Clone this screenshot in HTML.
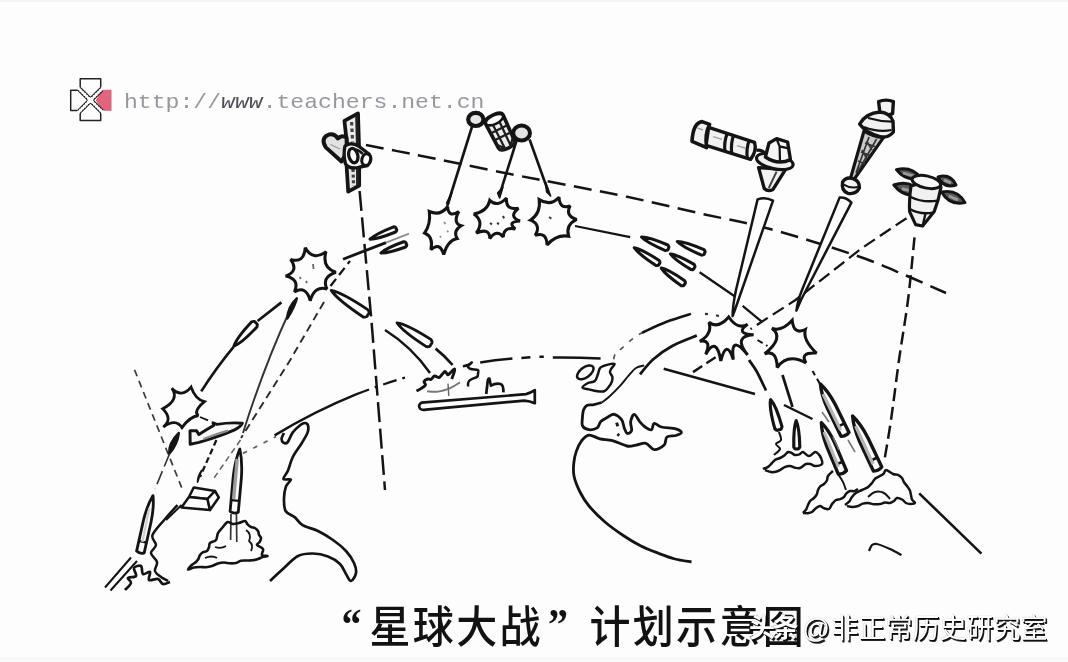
<!DOCTYPE html>
<html lang="zh-CN"><head><meta charset="utf-8"><title>“星球大战”计划示意图</title>
<style>
html,body{margin:0;padding:0;background:#fdfdfd;}
body{width:1068px;height:662px;overflow:hidden;position:relative;font-family:"Liberation Sans","Noto Sans CJK SC",sans-serif;}
svg{position:absolute;left:0;top:0;display:block;}
.url{position:absolute;left:124px;top:90px;will-change:transform;font:21px/26px "Liberation Mono",monospace;color:#9797a0;white-space:pre;transform:scaleX(1.1);transform-origin:0 0;}
.url i{color:#4f4f58;}
.cap{will-change:transform;position:absolute;left:325.5px;top:599px;font:500 41px/58px "Liberation Sans","Noto Sans CJK SC",sans-serif;color:#121212;white-space:nowrap;letter-spacing:2.35px;transform:scaleY(1.085);transform-origin:0 27px;}
.cap .q{display:inline-block;width:43.5px;letter-spacing:0;font:700 40px/58px "Liberation Serif",serif;vertical-align:top;box-sizing:border-box;position:relative;top:-3.5px}
.cap .ql{text-align:right;padding-right:8px;}
.cap .qr{text-align:left;padding-left:5px;width:46.5px}
.wm{will-change:transform;position:absolute;top:610.5px;font:27px/36px "Liberation Sans","Noto Sans CJK SC",sans-serif;color:#fff;white-space:nowrap;text-shadow:1px 1px 0 #0a0a0a,1.7px 1.7px 0 rgba(0,0,0,.85),0 0 1px rgba(0,0,0,.4);}
.wm1{left:748.5px;font-weight:700;font-size:26px;letter-spacing:-2.5px;top:610px}
.wm2{left:804.5px;}
.wm2 .at{margin-left:-2.5px;margin-right:1.5px}
</style></head><body>
<svg width="1068" height="662" viewBox="0 0 1068 662" stroke-linejoin="round">
<rect x="0" y="0" width="1068" height="662" fill="#fdfdfd"/>
<rect x="0" y="0" width="1068" height="2" fill="#f3f3f5"/>
<rect x="0" y="657" width="1068" height="5" fill="#f8f8f9"/>
<path d="M111 90.3H102.8L96.4 100.2L102.8 110.3H111Z" fill="#e0657e" stroke="#d9627b" stroke-width="1.02"/>
<path d="M80.2 88.6V78.7H100.7V88.6" fill="none" stroke="#222228" stroke-width="1.47" stroke-linecap="butt"/>
<path d="M79 90.3H70.7V110.4H79" fill="none" stroke="#222228" stroke-width="1.47" stroke-linecap="butt"/>
<path d="M80.2 112V120.6H100.7V112" fill="none" stroke="#222228" stroke-width="1.47" stroke-linecap="butt"/>
<path d="M79.6 89.4L101.6 111.2M101.4 89.4L79.4 111.2" fill="none" stroke="#222228" stroke-width="5.08" stroke-linecap="butt"/>
<path d="M78.9 88.7L102.6 112.2M102.1 88.7L78.4 112.2" fill="none" stroke="#fdfdfd" stroke-width="3.28" stroke-dasharray="0 2.75" stroke-linecap="round"/>
<path d="M78.6 88.4L102.6 112.2M102.4 88.4L78.4 112.2" fill="none" stroke="#fdfdfd" stroke-width="1.36" stroke-linecap="butt"/>
<circle cx="90.4" cy="100.3" r="2.7" fill="#fdfdfd"/>
<path d="M366 145C373.3 146.4 394.3 150.5 410 153.6C425.7 156.7 442.5 160.2 460 163.8C477.5 167.4 497.2 171.5 515 175C532.8 178.5 548.5 181.4 567 185C585.5 188.6 603.8 191.8 626 196.5C648.2 201.2 676 208 700 213.4C724 218.8 744 222 770 229C796 236 833.3 247.8 856 255.5C878.7 263.2 891 269.2 906 275.5C921 281.8 939.3 290.1 946 293" fill="none" stroke="#141414" stroke-width="2.49" stroke-dasharray="18 8.5" stroke-linecap="butt"/>
<path d="M359.6 191L371.4 320L385 490" fill="none" stroke="#141414" stroke-width="2.49" stroke-dasharray="20 6.5" stroke-linecap="butt"/>
<path d="M344.4 120.8L358 113.4L359 146L347.2 146Z" fill="#ececec" stroke="#141414" stroke-width="3.73"/>
<path d="M356.6 116L357.4 145" fill="none" stroke="#222" stroke-width="2.94" stroke-linecap="butt"/>
<path d="M351.6 122L352.6 142" fill="none" stroke="#444" stroke-width="3.16" stroke-dasharray="3.5 3" stroke-linecap="butt"/>
<path d="M346.6 166L359.2 166L359.2 185.6L348.2 191.6Z" fill="#e6e6e6" stroke="#141414" stroke-width="3.73"/>
<path d="M357.4 167L357.4 185" fill="none" stroke="#222" stroke-width="2.71" stroke-linecap="butt"/>
<path d="M353 169L353.6 186" fill="none" stroke="#444" stroke-width="3.16" stroke-dasharray="3 2.6" stroke-linecap="butt"/>
<path d="M341.5 161.5L325.8 147.4Q320.8 139.4 327 135.4Q333.5 132.2 338 138.5Q341.5 134.5 346.5 137.5L347 152Z" fill="#e2e2e2" stroke="#141414" stroke-width="3.95"/>
<path d="M330.5 144.5L340 149" fill="none" stroke="#999" stroke-width="1.13" stroke-linecap="butt"/>
<path d="M345 146Q351 141.5 358.5 146L369 154Q373 160 367.5 165.5L360 167Q350 170 345.5 164Q343 155 345 146Z" fill="#f4f4f4" stroke="#141414" stroke-width="3.39"/>
<ellipse cx="353.3" cy="155.6" rx="4.5" ry="7.3" transform="rotate(-14 353.3 155.6)" fill="#fdfdfd" stroke="#141414" stroke-width="3.3"/>
<ellipse cx="366.2" cy="159.6" rx="4.3" ry="5.9" transform="rotate(14 366.2 159.6)" fill="#fdfdfd" stroke="#141414" stroke-width="3.1"/>
<path d="M355.5 149.5Q359 150 363 154" fill="none" stroke="#141414" stroke-width="2.49" stroke-linecap="butt"/>
<path d="M472.2 126L447.2 206" fill="none" stroke="#141414" stroke-width="2.6" stroke-linecap="butt"/>
<path d="M516.6 140.5L499.8 194" fill="none" stroke="#141414" stroke-width="2.6" stroke-linecap="butt"/>
<path d="M529.6 139.5L548.4 192" fill="none" stroke="#141414" stroke-width="2.6" stroke-linecap="butt"/>
<path d="M452 192L448.6 203.5L446.6 203Z" fill="#141414" stroke="#141414" stroke-width="1.58"/>
<path d="M503 187L499.6 198L497.6 193Z" fill="#141414" stroke="#141414" stroke-width="1.58"/>
<path d="M545.5 182L550.6 196L546.6 192Z" fill="#141414" stroke="#141414" stroke-width="1.58"/>
<ellipse cx="475.8" cy="119.4" rx="7.6" ry="6.6" fill="#e6e6e6" stroke="#141414" stroke-width="4.2"/>
<g transform="rotate(-26 500 131)">
<path d="M490.2 118Q490.2 113.6 500 113.6Q509.8 113.6 509.8 118L508.8 146Q508.4 150 500 150Q491.6 150 491.2 146Z" fill="#ececec" stroke="#141414" stroke-width="3.62"/>
<ellipse cx="500" cy="118.4" rx="9.4" ry="4.4" fill="#fbfbfb" stroke="#141414" stroke-width="2.6"/>
<path d="M491 129L509 129M491 137L509 137M496.4 123L496.8 149M503.6 123L503.2 149M491 142L498 150M502 150L509 142M491 146L495 150M505 150L509 146" fill="none" stroke="#1e1e1e" stroke-width="2.26" stroke-linecap="butt"/>
</g>
<ellipse cx="521.6" cy="133" rx="8.4" ry="7.4" fill="#e4e4e4" stroke="#141414" stroke-width="4"/>
<path d="M343 259.2L386 242.6" fill="none" stroke="#141414" stroke-width="2.82" stroke-linecap="butt"/>
<path d="M386 242.6L409 233.6" fill="none" stroke="#8c8c8c" stroke-width="1.69" stroke-linecap="butt"/>
<path d="M330.5 286L350 261" fill="none" stroke="#141414" stroke-width="2.26" stroke-dasharray="9 5" stroke-linecap="butt"/>
<path d="M575 226L630.2 237.2" fill="none" stroke="#141414" stroke-width="2.26" stroke-linecap="butt"/>
<path d="M699.6 272.3L734.6 296.2M742.6 305.8L761.7 321.7" fill="none" stroke="#141414" stroke-width="2.26" stroke-linecap="butt"/>
<path d="M281.4 302.4L257.6 321" fill="none" stroke="#141414" stroke-width="2.71" stroke-linecap="butt"/>
<path d="M233.6 346.8Q216 368 201.2 391.4" fill="none" stroke="#141414" stroke-width="2.6" stroke-linecap="butt"/>
<path d="M385 330Q412 347 430 373" fill="none" stroke="#141414" stroke-width="2.49" stroke-linecap="butt"/>
<path d="M435.6 348.6Q445 356 452.6 365" fill="none" stroke="#141414" stroke-width="2.71" stroke-linecap="butt"/>
<path d="M290.5 309Q264 366 243 433" fill="none" stroke="#333" stroke-width="1.92" stroke-linecap="butt"/>
<path d="M296.8 298.4Q294.6 307 287.4 318.4Q287.6 307 296.8 298.4Z" fill="#141414" stroke="#141414" stroke-width="2.49"/>
<path d="M324 302L289 362L241 438" fill="none" stroke="#2a2a2a" stroke-width="1.92" stroke-dasharray="8 5" stroke-linecap="butt"/>
<path d="M134.5 369.7L165 446L182.8 490.4" fill="none" stroke="#3a3a3a" stroke-width="1.69" stroke-dasharray="7 5" stroke-linecap="butt"/>
<path d="M178.8 433Q177.6 444 169.2 453.8Q168.6 443 178.8 433Z" fill="#141414" stroke="#141414" stroke-width="2.49"/>
<path d="M169.6 453.6L155 489" fill="none" stroke="#333" stroke-width="1.58" stroke-dasharray="14 5" stroke-linecap="butt"/>
<path d="M200 417L208 420.4" fill="none" stroke="#141414" stroke-width="1.81" stroke-linecap="butt"/>
<path d="M216.4 440L200 477" fill="none" stroke="#141414" stroke-width="2.26" stroke-dasharray="6 3.5" stroke-linecap="butt"/>
<path d="M201.6 470.5Q199 477 197.6 482Q197.8 476 201.6 470.5Z" fill="#141414" stroke="#141414" stroke-width="1.81"/>
<path d="M240.5 440L213 479.5" fill="none" stroke="#666" stroke-width="1.58" stroke-dasharray="6 4" stroke-linecap="butt"/>
<path d="M243 453.4L276 436.6" fill="none" stroke="#666" stroke-width="1.81" stroke-dasharray="4.5 7" stroke-linecap="butt"/>
<path d="M274.6 435.4Q314 411.5 356 394.4" fill="none" stroke="#141414" stroke-width="2.49" stroke-linecap="butt"/>
<path d="M356 394.4Q380 385 405 377.6" fill="none" stroke="#141414" stroke-width="2.26" stroke-dasharray="14 6 3 6" stroke-linecap="butt"/>
<path d="M480.2 362.4Q496 360 512.4 358.6M521.4 357.9L530.4 357.2M539.4 356.8L543.8 356.8M552.8 357.5Q577 357.3 600.6 358.4" fill="none" stroke="#141414" stroke-width="2.49" stroke-linecap="butt"/>
<path d="M305.3 247.7Q313 261.5 326 251.6Q321.5 267.5 335.8 272.2Q321.2 277.5 327 289Q314.7 285.3 310.2 300.7Q306.3 285.2 294.5 291.8Q300 279.2 285.7 276.1Q299.2 271 290.6 259.4Q304.1 263.8 305.3 247.7Z" fill="#fdfdfd" stroke="#141414" stroke-width="3.05" stroke-linejoin="miter" stroke-miterlimit="2.5"/>
<path d="M447.6 206.7Q448.4 218.4 458.8 211.5Q452.5 223.2 461.2 225.8Q452.6 230.9 457.2 238.6Q447.8 240.5 443.7 254.5Q439.9 241.5 430.9 249.7Q433.6 236.6 424.6 233Q431 224 429.3 211.5Q440.1 216.4 447.6 206.7Z" fill="#fdfdfd" stroke="#141414" stroke-width="3.05" stroke-linejoin="miter" stroke-miterlimit="2.5"/>
<path d="M489.8 200.3Q497.6 207.7 506.5 198Q505.2 210.5 518.5 208.3Q508 216.7 520 221Q506.7 221.7 515.3 229Q503.6 226.4 503.3 237Q496.8 228.8 489.8 238.6Q489.9 227.4 476.3 233Q484.6 221.4 473.9 213.9Q487.4 211.3 489.8 200.3Z" fill="#fdfdfd" stroke="#141414" stroke-width="3.05" stroke-linejoin="miter" stroke-miterlimit="2.5"/>
<path d="M539.2 199.6Q550.8 206.7 559 197.2Q559.7 209.8 570.2 205.9Q564.8 215.9 576.6 219.4Q565.4 224.9 568.6 236.2Q556.5 234.2 547.1 244.9Q546.6 231.3 535.2 235.4Q541.6 224.6 530.4 220.2Q541 213.3 539.2 199.6Z" fill="#fdfdfd" stroke="#141414" stroke-width="3.05" stroke-linejoin="miter" stroke-miterlimit="2.5"/>
<path d="M171.8 388.3Q181.4 398.5 191.1 387.1Q195.2 399.2 204.4 401.6Q192.8 411.4 198.4 415.5Q189.6 416.7 182 427.6Q175.7 418.1 163.3 427Q173.2 419.1 162.7 408.8Q179.9 399.8 171.8 388.3Z" fill="#fdfdfd" stroke="#141414" stroke-width="2.82" stroke-linejoin="miter" stroke-miterlimit="2.5"/>
<path d="M709 322.3Q718.1 329.4 728.7 317Q737.8 330.4 747.7 324.2Q734.3 333.8 753.6 334.7Q732.3 336.1 747.7 355Q729.9 333.1 733.3 359.6Q726.4 338.1 720.8 361Q716.5 335.3 705.7 354.4Q712.2 339.1 699.8 341.3Q712.6 334.2 709 322.3Z" fill="#fdfdfd" stroke="#141414" stroke-width="3.05" stroke-linejoin="miter" stroke-miterlimit="2.5"/>
<path d="M771.9 328.2Q781.5 332.1 792.2 320.3Q793.7 335.3 805.3 329.5Q802.5 339.9 816.5 353.1Q799.3 352 806 362.9Q787.6 352.8 777.2 367.5Q776.8 349.4 764.7 353.7Q784.7 337.7 771.9 328.2Z" fill="#fdfdfd" stroke="#141414" stroke-width="3.05" stroke-linejoin="miter" stroke-miterlimit="2.5"/>
<path d="M313 264l.6 5M306 281l1 2M300 277l.6 2" fill="none" stroke="#666" stroke-width="1.81" stroke-linecap="butt"/>
<path d="M444 222l1.5 2M440 236l1 1.5M447 231l1.5 1" fill="none" stroke="#888" stroke-width="1.58" stroke-linecap="butt"/>
<path d="M490 223l2 1.4M497 223l2 1M503 216l1 2.4" fill="none" stroke="#333" stroke-width="2.03" stroke-linecap="butt"/>
<path d="M549 217l2.4 1.6" fill="none" stroke="#444" stroke-width="2.03" stroke-linecap="butt"/>
<path d="M370 239.2Q377.2 239.4 395.6 232Q397.6 230 396.2 228.8Q396.3 226.9 393.6 226.8Q375.1 234.1 370 239.2Z" fill="#fdfdfd" stroke="#141414" stroke-width="3.05" stroke-linejoin="round"/>
<path d="M380.9 253Q387.8 253.5 405.6 247Q407.5 245.1 406.2 243.8Q406.4 242 403.6 241.8Q385.9 248.2 380.9 253Z" fill="#fdfdfd" stroke="#141414" stroke-width="3.05" stroke-linejoin="round"/>
<path d="M331.2 290.4Q337.4 299.7 363.2 317Q367.4 317.7 367.7 314.8Q370.3 313.4 368 309.8Q342.2 292.6 331.2 290.4Z" fill="#fdfdfd" stroke="#141414" stroke-width="2.82" stroke-linejoin="round"/>
<path d="M397 322.8Q402.6 331.5 426.3 346.6Q430.5 347.3 430.8 344.4Q433.3 342.9 430.9 339.4Q407.2 324.2 397 322.8Z" fill="#fdfdfd" stroke="#141414" stroke-width="2.82" stroke-linejoin="round"/>
<path d="M234 346Q241.8 343.1 256.9 326.9Q258.1 323.5 255.7 322.8Q254.9 320.5 251.5 321.9Q236.3 338.1 234 346Z" fill="#fdfdfd" stroke="#141414" stroke-width="2.94" stroke-linejoin="round"/>
<path d="M641.5 237Q646.6 242.5 665.4 250.6Q668.4 250.5 668.3 248.5Q669.8 247.2 667.8 245Q649 236.9 641.5 237Z" fill="#fdfdfd" stroke="#141414" stroke-width="3.05" stroke-linejoin="round"/>
<path d="M677.2 241.5Q682.4 247 701.6 255.2Q704.6 255.1 704.5 253.1Q706 251.8 704 249.6Q684.8 241.5 677.2 241.5Z" fill="#fdfdfd" stroke="#141414" stroke-width="3.05" stroke-linejoin="round"/>
<path d="M634.2 247.7Q638.4 254 656 265.5Q658.9 266 659.1 264Q660.8 263 659.2 260.5Q641.7 249 634.2 247.7Z" fill="#fdfdfd" stroke="#141414" stroke-width="3.05" stroke-linejoin="round"/>
<path d="M670.4 254Q674.4 259.8 691.1 269.6Q694 269.9 694.2 267.9Q695.8 266.8 694.1 264.4Q677.5 254.7 670.4 254Z" fill="#fdfdfd" stroke="#141414" stroke-width="3.05" stroke-linejoin="round"/>
<path d="M661.3 268.1Q665 274.3 681.3 285.7Q684.2 286.2 684.5 284.2Q686.2 283.3 684.7 280.7Q668.4 269.4 661.3 268.1Z" fill="#fdfdfd" stroke="#141414" stroke-width="3.05" stroke-linejoin="round"/>
<path d="M190 430.6L196.6 430.8L198.8 434.6Q206 430 213.6 425.6L213 422.8L216.8 424.4Q230 422.2 242.4 423.2Q240.6 427 234.6 429.8Q222 435.4 199 442.4L190.2 444.2Z" fill="#f6f6f6" stroke="#141414" stroke-width="2.94"/>
<path d="M203.4 439Q216 434 228 430.6" fill="none" stroke="#8a8a8a" stroke-width="2.26" stroke-linecap="butt"/>
<path d="M193.8 487.4L215 491L207.5 499L189 497Z" fill="#fdfdfd" stroke="#141414" stroke-width="2.49"/>
<path d="M189 497L207.5 499L210 510L181.4 507.5Z" fill="#fdfdfd" stroke="#141414" stroke-width="2.49"/>
<path d="M215 491L218.8 497.5L210 510L207.5 499Z" fill="#fdfdfd" stroke="#141414" stroke-width="2.49"/>
<path d="M181.6 505L166 520" fill="none" stroke="#141414" stroke-width="2.03" stroke-linecap="butt"/>
<path d="M177.5 505C175.4 507.3 169.2 514 165 519C160.8 524 154 530.7 152.5 535C151 539.3 156.2 542 156 545C155.8 548 150.8 550.2 151 553C151.2 555.8 156.3 559 157 562C157.7 565 154.3 568.5 155 571C155.7 573.5 158.8 575.3 161 577C163.2 578.7 166.8 580.3 168 581" fill="none" stroke="#141414" stroke-width="2.49" stroke-linecap="butt"/>
<path d="M239.8 449Q235.1 460 233.2 476.9L230.1 511.4Q234 514.3 238.3 512.2L241.4 477.6Q242.5 460.6 239.8 449Z" fill="#fdfdfd" stroke="#141414" stroke-width="2.82" stroke-linejoin="round"/>
<path d="M231.1 500.1L239.3 500.9" stroke="#141414" stroke-width="2.256"/>
<path d="M237.2 459L233.6 499" fill="none" stroke="#9c9c9c" stroke-width="3.39" stroke-linecap="butt"/>
<path d="M153 495.6Q147.3 505 143.5 520.1L136.6 551.1Q139.9 554.3 144.2 552.9L151.1 521.8Q154.2 506.5 153 495.6Z" fill="#fdfdfd" stroke="#141414" stroke-width="2.82" stroke-linejoin="round"/>
<path d="M138.9 541L146.5 542.7" stroke="#141414" stroke-width="2.256"/>
<path d="M149.4 508L142.4 542" fill="none" stroke="#cfcfcf" stroke-width="2.26" stroke-linecap="butt"/>
<path d="M231 514L230.6 540M236.4 514L236.8 542" fill="none" stroke="#333" stroke-width="1.69" stroke-linecap="butt"/>
<path d="M222.5 527.5C224.1 525.7 225.8 522.6 227.5 522C229.2 521.4 231.1 523.8 233 524C234.9 524.2 237 523.5 239 523C241 522.5 243.6 520.8 245 521C246.4 521.2 246.6 523.4 247.6 524.4C248.6 525.4 249.8 526.4 251 527C252.2 527.6 253.8 527.5 255 528.2C256.1 528.8 257.3 529.9 258 531C258.7 532.1 258.5 533.5 259 534.7C259.5 535.9 260.9 536.8 261 538C261.1 539.2 260.4 540.7 259.7 541.9C259.1 543.1 256.5 543.8 257 545C257.5 546.2 262.2 547.3 263 549C263.8 550.7 261.2 553.8 262 555C262.8 556.2 267.4 555.7 267.5 556C267.6 556.3 264.2 556.5 262.6 557C261 557.5 259.8 558.4 258 559C256.2 559.6 254.1 560.1 252.1 560.3C250.1 560.6 247.9 560.4 246 560.5C244.1 560.6 242.4 560.4 240.8 560.8C239.1 561.2 237.8 562.6 236 563C234.2 563.4 232 563.4 230 563.3C228 563.2 226 562.5 224 562.5C222 562.5 219.8 562.9 217.8 563.5C215.8 564.1 214 565.4 212 566C210 566.6 208.1 567 206.1 567.2C204.1 567.4 202 566.9 200 567C198 567.1 195.9 567.2 193.9 567.6C191.9 568 188.4 569.9 188 569.5C187.6 569.1 190.2 566.5 191.5 565.2C192.8 564 194.8 563.1 196 562C197.2 560.9 197.8 559.9 198.5 558.8C199.1 557.6 199.2 556.1 200 555C200.8 553.9 201.9 552.9 203.1 552.2C204.2 551.6 206 551.8 207 551C208 550.2 208.5 548.5 209 547.2C209.5 545.8 208.8 544.2 210 543C211.2 541.8 214.7 541.7 216 540C217.3 538.3 216.9 535.1 218 533C219.1 530.9 220.9 529.3 222.5 527.5Z" fill="none" stroke="#141414" stroke-width="2.6"/>
<path d="M246 530Q252 534 249 541Q254 545 251 551M215 547Q221 549 226 546M205 558Q212 555 217 558" fill="none" stroke="#141414" stroke-width="1.81" stroke-linecap="butt"/>
<path d="M105 587.5L131 557.5M110.5 590.5L137 561" fill="none" stroke="#141414" stroke-width="2.03" stroke-linecap="butt"/>
<path d="M125 590C126 588.8 130.5 585 131 583C131.5 581 127.2 579.2 128 578C128.8 576.8 135 577.7 136 576C137 574.3 133.2 569.7 134 568C134.8 566.3 139.5 565 141 566C142.5 567 141.5 573 143 574C144.5 575 149 571 150 572C151 573 147.7 578.8 149 580C150.3 581.2 155.7 578.3 158 579C160.3 579.7 161 583.5 163 584C165 584.5 168.8 582.3 170 582" fill="none" stroke="#141414" stroke-width="2.71" stroke-linecap="butt"/>
<path d="M284 433C283.6 433.9 281.7 436.8 281.6 438.4C281.5 440 282.4 442 283.4 442.6C284.4 443.2 286 443.9 287.6 442.2C289.2 440.5 290.6 435.3 292.8 432.4C295 429.5 298.7 426.4 300.7 424.8C302.7 423.2 303.8 422.9 305 423C306.2 423.1 307.6 423.8 308 425.4C308.4 427 308.7 429.4 307.6 432.4C306.6 435.4 304.2 439.1 301.7 443.2C299.2 447.3 295.1 452.4 292.8 457C290.5 461.6 289.5 467 287.9 470.7C286.3 474.4 282.9 477.5 283.4 479C283.9 480.5 290.5 478.4 290.9 479.6C291.3 480.8 287.1 483.3 286 486.4C284.9 489.5 284.1 494.1 284 498.2C283.9 502.3 283.8 507.8 285.6 511C287.4 514.2 292.2 515 295 517.4C297.8 519.8 298.8 522.9 302.6 525.2C306.4 527.5 312.9 528.5 318 531C323.1 533.5 328.3 536.7 333 540C337.7 543.3 342.5 547.2 346 551C349.5 554.8 352.3 559.3 354 563C355.7 566.7 356.5 570 356 573C355.5 576 352.7 580.8 351 581C349.3 581.2 347.8 576.8 346 574C344.2 571.2 343 566.9 340 564C337 561.1 332.5 558.2 328 556.5C323.5 554.8 318 553.6 313 553.5C308 553.4 302.8 553.6 298 556C293.2 558.4 288.7 563.8 284 568C279.3 572.2 272.3 578.8 270 581" fill="none" stroke="#141414" stroke-width="2.71" stroke-linecap="butt"/>
<path d="M421.6 402.6Q417.6 405 420 408.6Q422 410.6 426 409.6L524.3 400.6Q530 401 534.8 403.2L534.8 390.2Q530 393.4 526 394.2Z" fill="#fdfdfd" stroke="#141414" stroke-width="2.71"/>
<path d="M486.2 394L487.4 384Q487.6 378 489.4 378.6Q490 382 491 385.6Q496 382.6 500.6 384Q503.6 385 503.4 392.4" fill="none" stroke="#141414" stroke-width="2.71" stroke-linecap="butt"/>
<path d="M416.5 391C417.2 390.6 419.5 389.6 421 388.6C422.5 387.6 425 386.2 425.5 385C426 383.8 423.6 382.6 424 381.6C424.4 380.6 426.5 379.4 427.7 379C428.9 378.6 429.9 379.9 431 379.4C432.1 378.9 433.2 376.3 434.5 376C435.8 375.7 437.8 377.8 439 377.5C440.2 377.2 441 375.5 442 374.5C443 373.5 444.1 371.5 445 371.5C445.9 371.5 446.9 374.2 447.6 374.6C448.3 375 448.7 374.3 449.4 373.7C450.1 373.1 451.1 371.8 452 371C452.9 370.2 454.4 368.7 454.7 369.2C455 369.7 454.1 372.4 453.6 374C453.1 375.6 452 378.2 451.7 379" fill="none" stroke="#141414" stroke-width="2.94" stroke-linecap="butt"/>
<path d="M427 391.4C428.8 391.4 434.3 392.1 438 391.6C441.7 391.1 445.3 390.1 449 388.6C452.7 387.1 458.2 383.4 460 382.4" fill="none" stroke="#777" stroke-width="1.92" stroke-linecap="butt"/>
<path d="M448 383.6L448.8 396" fill="none" stroke="#666" stroke-width="1.47" stroke-linecap="butt"/>
<path d="M462.9 366.4C463.8 366.2 466.5 365.6 468 365C469.5 364.4 471.9 362.2 471.9 362.5C471.9 362.8 468.1 365.5 468 366.6C467.9 367.7 469.4 368.4 471 369C472.6 369.6 476.7 369.2 477.9 370C479.1 370.8 478.1 372.5 478 373.6C477.9 374.7 478.2 375.8 477.2 376.7C476.2 377.6 473.4 378.2 472 379C470.6 379.8 469.6 380.4 468.9 381.2C468.2 382 468.1 383.1 468 384C467.9 384.9 468.2 386 468.2 386.4" fill="none" stroke="#141414" stroke-width="2.49" stroke-linecap="butt"/>
<ellipse cx="585.3" cy="372.4" rx="9.5" ry="5" transform="rotate(-36 585.3 372.4)" fill="#fdfdfd" stroke="#141414" stroke-width="2.49"/>
<path d="M600.4 367.7C602.1 366.1 605.6 365.2 608 364.6C610.4 364 614.1 363.3 614.6 364C615.1 364.7 611.8 367.6 611 369C610.2 370.4 609.8 371.1 610 372.4C610.2 373.7 612.1 375.4 612.4 377C612.7 378.6 612.4 380.2 611.8 381.9C611.2 383.6 609.9 385.4 608.6 387C607.3 388.6 606.3 390.6 604.2 391.3C602.1 392 598.5 391.3 596 391C593.5 390.7 591.2 390 589 389.4C586.8 388.8 582.7 388.6 582.5 387.5C582.3 386.4 586 384.1 588 383C590 381.9 593.1 382.5 594.8 381C596.5 379.5 597.1 376.2 598 374C598.9 371.8 598.7 369.3 600.4 367.7Z" fill="none" stroke="#141414" stroke-width="2.49"/>
<path d="M644.2 365.4C642.8 365.8 638.6 366.3 636 368C633.4 369.7 631.5 372.4 628.8 375.4C626.1 378.4 623.1 382.6 619.8 386.2C616.5 389.8 611.9 394.3 608.9 397C605.9 399.7 602.9 401.6 601.7 402.5" fill="none" stroke="#141414" stroke-width="1.92" stroke-linecap="butt"/>
<path d="M601.7 402.5C600.4 402.9 596.4 404.1 594 404.6C591.6 405.1 588.9 404.4 587.2 405.3C585.5 406.2 584.4 407.7 583.6 409.8C582.8 411.9 582.6 415.3 582.4 418C582.2 420.7 581.5 424.1 582.6 426C583.7 427.9 586.6 429.4 589 429.7C591.4 430 595.1 429.2 597.1 427.9C599.1 426.5 599 423.4 600.8 421.6C602.6 419.8 605.8 418.2 608 417C610.2 415.8 612 413.9 614.3 414.3C616.6 414.8 619.9 417.4 621.6 419.7C623.3 422 623.4 425.6 624.3 427.9C625.2 430.2 625.8 432.9 627 433.3C628.2 433.8 631 432.6 631.6 430.6C632.2 428.7 630.2 424.3 630.7 421.6C631.2 418.9 632.8 414.3 634.3 414.3C635.8 414.3 637.9 419.5 639.7 421.6C641.5 423.7 643.1 425.6 645.1 427C647.1 428.4 650 430.3 651.5 429.7C653 429.1 652.6 423.8 654.2 423.4C655.9 422.9 657.8 426.1 661.4 427C665 427.9 672.6 427.9 675.9 428.8C679.2 429.7 681.4 431.3 681.4 432.4C681.4 433.5 678.3 434.7 675.9 435.5C673.5 436.3 668.8 435.4 666.9 437C665 438.6 666.3 443 664.2 445.1C662.1 447.2 657.2 449.9 654.2 449.6C651.2 449.3 649 444.1 646 443.3C643 442.6 639.3 444.7 636.1 445.1C632.9 445.6 630.9 446.8 627 446C623.1 445.2 617 441.8 612.5 440.6C608 439.4 603.8 439.7 599.9 438.8C596 437.9 592 434.8 589 435.1C586 435.4 583.8 437.9 581.7 440.6C579.6 443.3 577.6 447.7 576.3 451.4C575 455.1 574.2 458.9 573.8 463C573.4 467.1 573 471.2 574 476C575 480.8 577.5 487 580 492C582.5 497 584.8 501 589 506C593.2 511 599.2 517 605 522C610.8 527 618 532 624 536C630 540 635.2 543.1 641 546C646.8 548.9 653.3 551.3 659 553.5C664.7 555.7 669.6 557.6 675 559C680.4 560.4 688.8 561.5 691.5 562" fill="none" stroke="#141414" stroke-width="2.82" stroke-linecap="butt"/>
<path d="M616.6 422.6l1.2 3.6M617.4 434l1.8 1.6" fill="none" stroke="#1c1c1c" stroke-width="2.94" stroke-linecap="butt"/>
<path d="M613.7 359.2C614 358.2 614.2 355.2 615.5 353.5C616.8 351.8 618.4 351.2 621.2 348.8C624 346.4 629 341.5 632.5 338.8C636 336.1 640.4 333.8 642 332.8" fill="none" stroke="#555" stroke-width="1.69" stroke-dasharray="5 7" stroke-linecap="butt"/>
<path d="M642 332.8C646 331 657.8 325.1 666 322C674.2 318.9 686.8 315.2 691 313.9" fill="none" stroke="#141414" stroke-width="2.49" stroke-linecap="butt"/>
<path d="M705 313.8l3 .3M716 315.4l3 .6" fill="none" stroke="#333" stroke-width="2.26" stroke-linecap="butt"/>
<path d="M640 374.3C642.2 371.8 647.9 363.9 653.3 359.2C658.7 354.5 665 349.9 672.2 346C679.5 342.1 692.7 337.3 696.8 335.6" fill="none" stroke="#141414" stroke-width="2.71" stroke-linecap="butt"/>
<path d="M663.7 368.7L755 394" fill="none" stroke="#141414" stroke-width="2.49" stroke-linecap="butt"/>
<path d="M784 405L812.5 419" fill="none" stroke="#141414" stroke-width="2.49" stroke-linecap="butt"/>
<path d="M715.6 357.3L691 373.4" fill="none" stroke="#141414" stroke-width="2.49" stroke-dasharray="11 5" stroke-linecap="butt"/>
<path d="M749 360C750.3 362 754.2 366.9 757 372C759.8 377.1 764.5 387.4 766 390.5" fill="none" stroke="#141414" stroke-width="2.71" stroke-linecap="butt"/>
<path d="M782.5 375L792.5 407" fill="none" stroke="#141414" stroke-width="2.71" stroke-linecap="butt"/>
<path d="M812.5 371L820 384" fill="none" stroke="#141414" stroke-width="2.03" stroke-dasharray="5 4" stroke-linecap="butt"/>
<path d="M757.5 340L767.5 346" fill="none" stroke="#141414" stroke-width="2.03" stroke-dasharray="6 4" stroke-linecap="butt"/>
<path d="M906.5 218.2L862 248L795.5 300L750.5 329" fill="none" stroke="#141414" stroke-width="2.26" stroke-dasharray="13 6" stroke-linecap="butt"/>
<path d="M914.5 237.3C913.4 247.8 910.6 279.6 908 300C905.4 320.4 901.8 340 899 360C896.2 380 893.5 402.9 891 420C888.5 437.1 885.2 455.4 884 462.5" fill="none" stroke="#141414" stroke-width="2.49" stroke-dasharray="13 6" stroke-linecap="butt"/>
<path d="M757.6 199.4Q765 196.5 773 200.6L735.6 308L732.6 316Q732.6 306 736 290Z" fill="#fdfdfd" stroke="#141414" stroke-width="2.49"/>
<path d="M839.6 197.6Q846 197 851.4 202.6L801 300L796.4 310.6Q797.6 301 802 290Z" fill="#fdfdfd" stroke="#141414" stroke-width="2.49"/>
<path d="M708.6 127.4L754.6 142.4Q757 151 750.6 159.4L706 145.4Z" fill="#f1f1f1" stroke="#141414" stroke-width="3.39"/>
<path d="M702 121.6Q693 123 692 141.4L706.6 147.6Q704.6 134 709.6 124.4Z" fill="#f1f1f1" stroke="#141414" stroke-width="3.62"/>
<path d="M727.6 132.6Q723.6 142 725 151.6M733.8 134.6Q730.4 144 731.8 154M749.4 139.8Q745.8 149 747.4 158.4" fill="none" stroke="#141414" stroke-width="3.16" stroke-linecap="butt"/>
<path d="M697.5 128L703 130M713 136.6L722 139.4M737 145.6L745 148" fill="none" stroke="#a0a0a0" stroke-width="1.47" stroke-linecap="butt"/>
<path d="M758.6 167.6L785.4 169.6L773 189.4Q768 192 764.2 188.4Z" fill="#f3f3f3" stroke="#141414" stroke-width="3.39"/>
<path d="M776.6 171.6L768.8 188" fill="none" stroke="#444" stroke-width="2.03" stroke-linecap="butt"/>
<ellipse cx="774.8" cy="161.4" rx="18.6" ry="7.4" transform="rotate(12 774.8 161.4)" fill="#f1f1f1" stroke="#141414" stroke-width="3.2"/>
<path d="M765.4 157L769 143L776.6 138.6L787.6 142L790.4 159.6Q778 165.6 765.4 157Z" fill="#f6f6f6" stroke="#141414" stroke-width="3.39"/>
<path d="M776.6 139L779.6 146.4L788.6 148.4M779.6 146.4L780 161" fill="none" stroke="#141414" stroke-width="2.26" stroke-linecap="butt"/>
<path d="M756.4 150.4Q762.6 149 765.4 154.6" fill="none" stroke="#141414" stroke-width="3.16" stroke-linecap="butt"/>
<path d="M878.6 101.6Q886 98.6 893.4 101.6L892.6 113.6Q886 116.6 880 113.6Z" fill="#f3f3f3" stroke="#141414" stroke-width="3.39"/>
<path d="M859.6 124Q866 113 880 112Q890 113 893 121L893.4 132Q888 138.6 880 136.6Q866 133 859.6 124Z" fill="#f1f1f1" stroke="#141414" stroke-width="3.39"/>
<path d="M868 118Q880 121.6 892 121.6M864 127Q878 132.6 891.6 130" fill="none" stroke="#141414" stroke-width="2.26" stroke-linecap="butt"/>
<path d="M864 131Q873 137 883.4 137.6L853.6 180L850.6 178Z" fill="#c9c9c9" stroke="#141414" stroke-width="3.16"/>
<path d="M869 137L856 173M876.6 139L857.6 172M865 143L876 147M861 152L870.6 155.6M858 161L865 164M866.6 141L872 150M862 150L867 159" fill="none" stroke="#333" stroke-width="1.69" stroke-linecap="butt"/>
<path d="M842.6 182Q846 176.6 853 178.6Q860 181 859.4 188Q856 194.6 848 193.4Q841 191 842.6 182Z" fill="#f3f3f3" stroke="#141414" stroke-width="3.39"/>
<path d="M843.6 184.6Q851 189 859 186.6" fill="none" stroke="#141414" stroke-width="2.03" stroke-linecap="butt"/>
<path d="M896.4 169.6Q905.9 181.9 921 178Q911.5 165.7 896.4 169.6Z" fill="#5a5a5a" stroke="#141414" stroke-width="2.94"/>
<path d="M893.8 185Q904.9 199.3 922 193.4Q910.9 179.1 893.8 185Z" fill="#5a5a5a" stroke="#141414" stroke-width="2.94"/>
<path d="M938 177Q943.6 188.7 956 185Q950.4 173.3 938 177Z" fill="#5a5a5a" stroke="#141414" stroke-width="2.94"/>
<path d="M941.6 192Q949.4 205.9 965 202.6Q957.2 188.7 941.6 192Z" fill="#5a5a5a" stroke="#141414" stroke-width="2.94"/>
<path d="M903 173L914 176M902 188.6L915 192M944 180L951 183M949 196L958 200" fill="none" stroke="#9c9c9c" stroke-width="2.71" stroke-linecap="butt"/>
<path d="M911 186Q909 200 909.6 211.6L915.6 224.6L922.6 226L934.2 211.6Q939 199 941 187Q926 180 911 186Z" fill="#f1f1f1" stroke="#141414" stroke-width="3.16"/>
<path d="M910.6 197Q923 203 937.6 200.6M909.8 209Q920 215 933 212.6M922.6 226L925.6 213" fill="none" stroke="#141414" stroke-width="2.37" stroke-linecap="butt"/>
<ellipse cx="926.4" cy="182" rx="14.6" ry="6" transform="rotate(12 926.4 182)" fill="#f6f6f6" stroke="#141414" stroke-width="3"/>
<path d="M770.6 399.6Q769 407.6 774.8 428.6Q777.2 431.4 779 429.7Q781.4 430.2 782 426.6Q776.1 405.6 770.6 399.6Z" fill="#fdfdfd" stroke="#141414" stroke-width="3.16" stroke-linejoin="round"/>
<path d="M796.2 420.6Q793.4 427.3 793.8 447.1Q795.1 449.7 796.8 448.8Q798.7 449.7 799.8 446.9Q799.3 427.1 796.2 420.6Z" fill="#fdfdfd" stroke="#141414" stroke-width="3.16" stroke-linejoin="round"/>
<path d="M820.4 384Q821.3 394.8 827.5 408.6L841 436.3Q846 436.4 849 432.5L835.4 404.8Q828.4 391.3 820.4 384Z" fill="#fdfdfd" stroke="#141414" stroke-width="3.39" stroke-linejoin="round"/>
<path d="M836.6 427.3L844.5 423.4" stroke="#141414" stroke-width="2.712"/>
<path d="M821.4 422.6Q821.5 433.1 826.8 446.7L838.3 474.1Q843.2 474.4 846.5 470.7L834.9 443.3Q828.8 430 821.4 422.6Z" fill="#fdfdfd" stroke="#141414" stroke-width="3.39" stroke-linejoin="round"/>
<path d="M834.6 465.1L842.7 461.7" stroke="#141414" stroke-width="2.712"/>
<path d="M852.6 416Q853.4 427.3 859.7 441.8L873.4 471Q878.6 471.1 881.8 467L868 437.9Q860.8 423.8 852.6 416Z" fill="#fdfdfd" stroke="#141414" stroke-width="3.39" stroke-linejoin="round"/>
<path d="M868.9 461.4L877.3 457.5" stroke="#141414" stroke-width="2.712"/>
<path d="M823 394L840.6 430M824 432L838.4 467M855.6 426L873 464" fill="none" stroke="#b4b4b4" stroke-width="3.16" stroke-linecap="butt"/>
<path d="M822 412L829 422M833 437L839 450M848 440L855 452" fill="none" stroke="#777" stroke-width="1.58" stroke-linecap="butt"/>
<path d="M779 432C779.3 433.3 781.5 438 781 440C780.5 442 776.2 442.5 776 444C775.8 445.5 780.3 447.2 780 449C779.7 450.8 775 454 774 455" fill="none" stroke="#141414" stroke-width="2.03" stroke-linecap="butt"/>
<path d="M763 469C763.8 468.6 766.6 467.9 768.1 466.9C769.6 465.9 770.8 464.2 772 463C773.2 461.8 774.1 460.4 775.4 459.6C776.8 458.8 778.5 458.7 780 458C781.5 457.3 783 456.4 784.3 455.4C785.7 454.4 786.8 452.4 788 452C789.2 451.6 790.6 452.5 791.7 453C792.9 453.5 793.7 454.8 795 455C796.3 455.2 798 454.9 799.4 454.4C800.7 453.9 801.4 451.7 803 452C804.6 452.3 807 456 809 456C811 456 813.4 452.3 815 452C816.6 451.7 817.7 453.3 818.7 454.3C819.7 455.3 820.4 456.4 821 458C821.6 459.6 823 462.7 822 464C821 465.3 816.9 466 815 466C813.1 466 812.2 464.5 810.7 464.1C809.2 463.8 807.8 463.4 806 464C804.2 464.6 801.9 467.4 800 468C798.1 468.6 796.5 468 794.9 467.7C793.2 467.3 791.7 466.1 790 466C788.3 465.9 786.3 466.5 784.7 467.2C783 467.9 781.5 469.2 780 470C778.5 470.8 777.2 471.5 775.7 471.8C774.2 472.2 772.8 472.3 771 472C769.2 471.7 766 470.3 765 470" fill="none" stroke="#141414" stroke-width="2.49" stroke-linecap="butt"/>
<path d="M803 513C803.5 512.4 805.3 510.7 806.2 509.4C807 508.1 807.3 506.4 808 505C808.7 503.6 809.2 502 810.2 500.9C811.2 499.7 812.9 499.1 814 498C815.1 496.9 816.1 495.7 816.8 494.4C817.4 493.1 817.4 491.4 818 490C818.6 488.6 819.3 487.3 820.3 486.3C821.3 485.3 822.9 485 824 484C825.1 483 826.3 481.8 826.9 480.5C827.6 479.1 827 477.6 828 476C829 474.4 832.2 471.8 833 471" fill="none" stroke="#141414" stroke-width="2.49" stroke-linecap="butt"/>
<path d="M803 513C803.8 513 806.1 513.4 807.6 513.2C809.1 513 810.7 512.8 812 512C813.3 511.2 814.3 509.5 815.6 508.5C817 507.5 818.6 506 820 506C821.4 506 822.7 507.8 824.2 508.3C825.7 508.8 827.7 509.7 829 509C830.3 508.3 830.8 505.6 832 504.1C833.2 502.6 834.6 500.8 836 500C837.4 499.2 838.9 499.6 840.2 499.1C841.5 498.6 843 497.9 844 497C845 496.1 845.4 494.4 846.4 493.4C847.4 492.4 848.7 491.4 850 491C851.3 490.6 852.9 491.5 854.3 491.1C855.6 490.8 857.4 489.4 858 489" fill="none" stroke="#141414" stroke-width="2.49" stroke-linecap="butt"/>
<path d="M845 505C845.7 504.4 848.1 503 849.2 501.6C850.4 500.3 850.8 498.5 852 497C853.2 495.5 854.7 493.8 856.4 492.6C858.1 491.5 860.1 490.9 862 490C863.9 489.1 865.9 488.5 867.6 487.4C869.3 486.2 870.7 484.5 872 483C873.3 481.5 873.9 479.8 875.2 478.6C876.6 477.5 878.6 476.8 880 476C881.4 475.2 882.7 474.7 883.7 473.7C884.7 472.7 884.5 470 886 470C887.5 470 891 473.2 893 474C895 474.8 896.5 474.3 898 474.9C899.5 475.6 901 476.8 902 478C903 479.2 903.2 481 904 482.3C904.9 483.6 906 484.7 907 486C908 487.3 909.1 488.7 909.8 490.2C910.5 491.7 910.6 493.4 911 495C911.4 496.6 911.3 498.2 912 499.5C912.6 500.9 915.2 502.3 915 503C914.8 503.7 912 504 910.5 504C909 504 907.4 503.7 906 503C904.6 502.3 903.6 500.3 902.1 499.5C900.6 498.7 898.4 497.7 897 498C895.6 498.3 895 500.2 893.9 501C892.7 501.8 891.5 502.7 890 503C888.5 503.3 886.6 502.5 884.9 502.6C883.2 502.8 881.8 503.7 880 504C878.2 504.3 875.9 504.4 873.9 504.2C871.9 504 869.9 503.1 868 503C866.1 502.9 864.4 503.1 862.7 503.6C861.1 504.1 859.7 505.5 858 506C856.3 506.5 854.3 506.9 852.5 506.9C850.7 506.9 847.9 506.2 847 506" fill="none" stroke="#141414" stroke-width="2.49" stroke-linecap="butt"/>
<path d="M868 497C869.2 496.2 872.3 492.7 875 492C877.7 491.3 881.5 491.8 884 493C886.5 494.2 889 498 890 499" fill="none" stroke="#141414" stroke-width="2.03" stroke-linecap="butt"/>
<path d="M838 474C838.8 475.3 841.7 479.3 843 482C844.3 484.7 845.5 488.7 846 490" fill="none" stroke="#141414" stroke-width="1.81" stroke-linecap="butt"/>
<path d="M919.2 493.4L981.4 553.6" fill="none" stroke="#141414" stroke-width="2.6" stroke-linecap="butt"/>
<path d="M869 551C869.5 550 870.7 546.2 872 545C873.3 543.8 874 543.3 877 544C880 544.7 885.9 547.2 890 549C894.1 550.8 899.6 554 901.5 555" fill="none" stroke="#141414" stroke-width="2.26" stroke-linecap="butt"/>
</svg>
<div class="url">http://<i>www</i>.teachers.net.cn</div>
<div class="cap"><span class="q ql">“</span>星球大战<span class="q qr">”</span>计划示意图</div>
<div class="wm wm1">头条</div>
<div class="wm wm2"><span class="at">@</span>非正常历史研究室</div>
</body></html>
